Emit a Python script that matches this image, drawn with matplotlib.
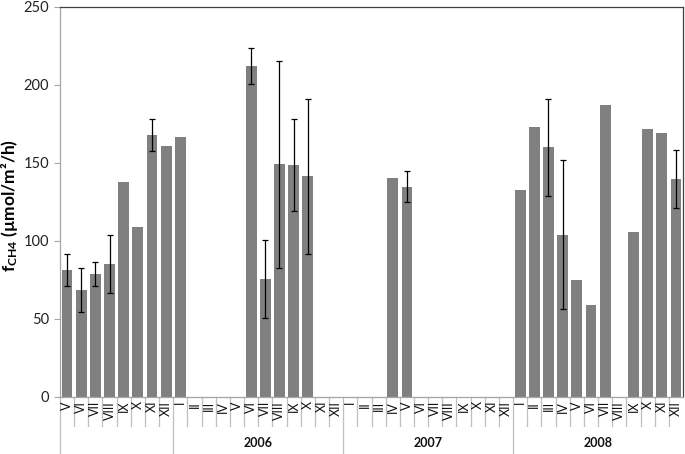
import numpy as np
import matplotlib
matplotlib.use('Agg')
import matplotlib.pyplot as plt
import matplotlib.transforms as mtransforms

plt.rcParams['font.family'] = ['Lato', 'DejaVu Sans']
plt.rcParams['mathtext.fontset'] = 'custom'
plt.rcParams['mathtext.rm'] = 'Lato'
plt.rcParams['mathtext.bf'] = 'Lato:bold'

# Month labels per year group (first group is 2005, unlabeled)
months_2005 = ['V', 'VI', 'VII', 'VIII', 'IX', 'X', 'XI', 'XII']
months_full = ['I', 'II', 'III', 'IV', 'V', 'VI', 'VII', 'VIII', 'IX', 'X', 'XI', 'XII']
year_labels = ['', '2006', '2007', '2008']
groups = [months_2005, months_full, months_full, months_full]

# Mean CH4 flux (umol/m2/h); None = no measurement
flux = [81.5, 68.5, 78.9, 85.3, 137.8, 108.8, 167.9, 160.8,
        166.4, None, None, None, None, 212.0, 75.7, 149.3, 148.7, 141.6, None, None,
        None, None, None, 140.6, 134.8, None, None, None, None, None, None, None,
        132.7, 173.0, 160.0, 104.1, 75.1, 58.9, 186.9, None, 105.6, 171.5, 169.4, 139.7]

# Error bar half-widths
flux_err = [10.1, 14.2, 7.6, 18.5, None, None, 10.2, None,
            None, None, None, None, None, 11.5, 24.9, 66.3, 29.2, 49.7, None, None,
            None, None, None, None, 9.9, None, None, None, None, None, None, None,
            None, None, 31.0, 47.7, None, None, None, None, None, None, None, 18.7]

labels = [m for g in groups for m in g]
vals = np.array([np.nan if v is None else v for v in flux])
errs = np.array([np.nan if e is None else e for e in flux_err])
x = np.arange(len(labels))

fig = plt.figure(figsize=(6.85, 4.54), dpi=100)
ax = fig.add_axes([60 / 685, 57 / 454, 623 / 685, 390 / 454])

ax.bar(x, np.nan_to_num(vals), width=0.76, color='#808080', zorder=2)
ax.errorbar(x, vals, yerr=errs, fmt='none', ecolor='black', elinewidth=0.9,
            capsize=2, capthick=0.9, zorder=3)

ax.set_xlim(-0.5, len(labels) - 0.5)
ax.set_ylim(0, 250)
ax.set_yticks(np.arange(0, 251, 50))
ax.tick_params(axis='y', direction='out', length=4, width=0.8, color='#a6a6a6',
               labelsize=10.5, labelcolor='#222222', pad=4)
ax.set_xticks([])

for side in ['left', 'bottom']:
    ax.spines[side].set_color('#a6a6a6')
    ax.spines[side].set_linewidth(0.9)
for side in ['top', 'right']:
    ax.spines[side].set_color('#404040')
    ax.spines[side].set_linewidth(0.9)

ax.set_ylabel(r'$\mathbf{f_{CH4}}$ (µmol/m²/h)', fontsize=12.5, fontweight='bold')
ax.yaxis.set_label_coords(-0.064, 0.49)

trans = mtransforms.blended_transform_factory(ax.transData, ax.transAxes)
short = -29 / 390
long_ = -57 / 390

# month labels
for xi, lab in zip(x, labels):
    ax.text(xi, -4 / 390, lab, transform=trans, rotation=90, ha='center', va='top',
            fontsize=9, color='#111111')

# separators
starts = np.cumsum([0] + [len(g) for g in groups])
for i in range(len(labels)):
    edge = i - 0.5
    y_end = long_ if i in starts else short
    ax.plot([edge, edge], [0, y_end], transform=trans, color='#bfbfbf', lw=0.9,
            clip_on=False)

# year labels
for s, e, yl in zip(starts[:-1], starts[1:], year_labels):
    if yl:
        ax.text((s + e - 1) / 2, -46 / 390, yl, transform=trans, ha='center',
                va='center', fontsize=9, fontweight='bold', color='#111111')

fig.savefig('out.png', dpi=100)
